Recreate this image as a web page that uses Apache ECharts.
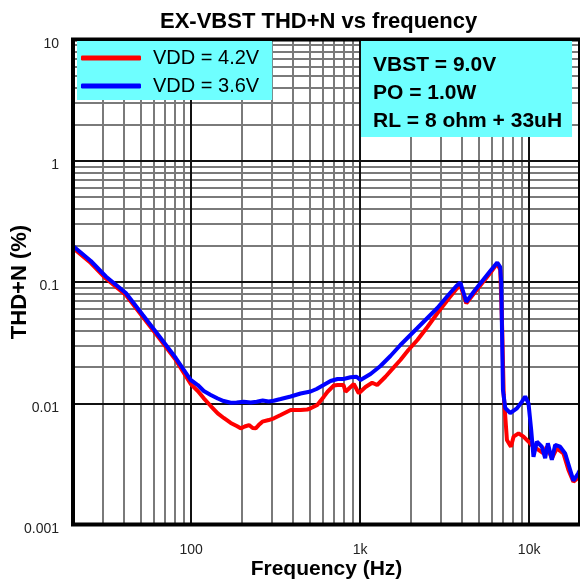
<!DOCTYPE html>
<html>
<head>
<meta charset="utf-8">
<script src="https://cdn.jsdelivr.net/npm/echarts@6/dist/echarts.min.js"></script>
<style>html,body{margin:0;padding:0;background:#fff}#c{width:580px;height:583px}</style>
</head>
<body>
<div id="c"></div>
<script>
// ---------- data ----------
const seriesNames = ['VDD = 4.2V', 'VDD = 3.6V'];

const freq42 = [20, 25.5, 31.3, 41.1, 51.8, 65.3, 81.2, 99.5, 109.5, 118.8, 130.7, 143.7, 155.9, 171.5, 186.1, 196.5, 207.5, 220.1, 231.4, 241, 251, 264, 287.6, 309, 338.6, 388, 444.5, 486.7, 509.3, 557.6, 610.2, 641.6, 699, 735, 797.5, 819.7, 842, 917.3, 938.8, 981.8, 1076, 1178, 1261, 1412, 1553, 1731, 1930, 2182, 2500, 2864, 3326, 3710, 3916, 4078, 4250, 4738, 5282, 5888, 6478, 6748, 6932, 7076, 7390, 7806, 8088, 8656, 9264, 9914, 10612, 11358, 12156, 12732, 13628, 14590, 15960, 17084, 18282, 19568, 20000];
const thd42 = [0.1908, 0.1434, 0.1068, 0.0781, 0.0515, 0.0339, 0.0227, 0.0144, 0.01262, 0.01098, 0.00949, 0.00826, 0.00756, 0.00688, 0.00649, 0.00621, 0.00643, 0.00661, 0.00625, 0.00621, 0.00661, 0.00705, 0.00727, 0.00751, 0.0080, 0.0088, 0.0088, 0.00888, 0.00908, 0.00967, 0.01133, 0.01244, 0.01401, 0.01414, 0.01414, 0.01244, 0.01286, 0.01441, 0.01441, 0.01208, 0.01361, 0.01477, 0.01414, 0.01655, 0.01918, 0.02273, 0.02749, 0.03323, 0.04253, 0.0552, 0.0724, 0.0876, 0.0944, 0.0796, 0.0667, 0.0811, 0.0981, 0.1186, 0.1426, 0.1256, 0.0402, 0.0117, 0.00498, 0.00438, 0.0053, 0.00565, 0.0053, 0.00482, 0.00438, 0.00412, 0.00386, 0.00438, 0.00352, 0.00425, 0.00386, 0.00282, 0.00225, 0.00244, 0.00249];

const freq36 = [20, 25.5, 31.3, 41.1, 51.8, 65.3, 81.2, 99.5, 109.5, 118.8, 130.7, 143.7, 155.9, 171.5, 186.1, 204.7, 225.2, 244.3, 265, 287.6, 307.8, 338.6, 388, 444.5, 509.3, 552.4, 607.6, 668.3, 735, 797.5, 877, 951.8, 1005, 1076, 1152, 1319, 1511, 1731, 1930, 2182, 2500, 2864, 3326, 3710, 3916, 4078, 4250, 4738, 5282, 5888, 6478, 6748, 6840, 6998, 7222, 7730, 8468, 9064, 9480, 9914, 10286, 10612, 11110, 11898, 12444, 12910, 13628, 14254, 15258, 16332, 17482, 18282, 19568, 20000];
const thd36 = [0.198, 0.149, 0.111, 0.0811, 0.0534, 0.0352, 0.0236, 0.01555, 0.01414, 0.01262, 0.0117, 0.01094, 0.01043, 0.0101, 0.01014, 0.0103, 0.01014, 0.0103, 0.01053, 0.01034, 0.01048, 0.01083, 0.01137, 0.01203, 0.0125, 0.01311, 0.01414, 0.01526, 0.01585, 0.01585, 0.01637, 0.01655, 0.01555, 0.01646, 0.01742, 0.02028, 0.02453, 0.03023, 0.0352, 0.04174, 0.05048, 0.06103, 0.07811, 0.0927, 0.0991, 0.0827, 0.0688, 0.0843, 0.1019, 0.1232, 0.1447, 0.1329, 0.0981, 0.01286, 0.00913, 0.00831, 0.00908, 0.0103, 0.01137, 0.00999, 0.00602, 0.00362, 0.00482, 0.00438, 0.00352, 0.00468, 0.00341, 0.00453, 0.00438, 0.00386, 0.00282, 0.0023, 0.00266, 0.00282];

// tick labels
const xTickValues = [100, 1000, 10000];
const xTickLabels = ['100', '1k', '10k'];
const yTickValues = [0.001, 0.01, 0.1, 1, 10];
const yTickLabels = ['0.001', '0.01', '0.1', '1', '10'];

// grid line positions (log decades and their 2..9 subdivisions)
const xMinorLines = [30, 40, 50, 60, 70, 80, 90, 200, 300, 400, 500, 600, 700, 800, 900, 2000, 3000, 4000, 5000, 6000, 7000, 8000, 9000];
const xMajorLines = [100, 1000, 10000];
const yMinorLines = [0.002, 0.003, 0.004, 0.005, 0.006, 0.007, 0.008, 0.009, 0.02, 0.03, 0.04, 0.05, 0.06, 0.07, 0.08, 0.09, 0.2, 0.3, 0.4, 0.5, 0.6, 0.7, 0.8, 0.9, 2, 3, 4, 5, 6, 7, 8, 9];
const yMajorLines = [0.01, 0.1, 1];

const infoText = ['VBST = 9.0V', 'PO = 1.0W', 'RL = 8 ohm + 33uH'];
const titleText = 'EX-VBST THD+N vs frequency';

// ---------- chart ----------
const FONT = 'Liberation Sans, Arial, sans-serif';
const CYAN = '#6EFFFF';
const zip = (xs, ys) => xs.map((x, i) => [x, ys[i]]);
function pickLabel(v, vals, labels) {
  const lv = Math.log10(v);
  const i = vals.findIndex(t => Math.abs(Math.log10(t) - lv) < 1e-6);
  return i >= 0 ? labels[i] : '';
}

const minorStyle = { color: '#7a7a7a', width: 2, type: 'solid' };
const majorStyle = { color: '#111', width: 2, type: 'solid' };
const gridLineData = []
  .concat(xMinorLines.map(v => ({ xAxis: v, lineStyle: minorStyle })))
  .concat(yMinorLines.map(v => ({ yAxis: v, lineStyle: minorStyle })))
  .concat(xMajorLines.map(v => ({ xAxis: v, lineStyle: majorStyle })))
  .concat(yMajorLines.map(v => ({ yAxis: v, lineStyle: majorStyle })));

const chart = echarts.init(document.getElementById('c'), null, { renderer: 'canvas' });
chart.setOption({
  animation: false,
  backgroundColor: '#fff',
  title: [
    {
      text: titleText, left: 155, top: 6, z: 6,
      textStyle: { fontFamily: FONT, fontSize: 22, fontWeight: 'bold', color: '#000' }
    },
    {
      text: infoText.join('\n'), left: 361, top: 41, z: 6,
      backgroundColor: CYAN, padding: [10, 10, 2, 12],
      textStyle: { fontFamily: FONT, fontSize: 21, fontWeight: 'bold', color: '#000', lineHeight: 28 }
    }
  ],
  legend: {
    data: seriesNames, orient: 'vertical', left: 77, top: 41, z: 6,
    backgroundColor: CYAN, padding: [7, 13, 4, 4],
    icon: 'roundRect', itemWidth: 60, itemHeight: 5, itemGap: 8,
    textStyle: { fontFamily: FONT, fontSize: 20, color: '#000', padding: [0, 0, 0, 7], lineHeight: 20 }
  },
  grid: {
    left: 73, right: 0, top: 39.5, bottom: 58.5,
    outerBoundsMode: 'none', containLabel: false,
    show: true, borderColor: '#000', borderWidth: 4, backgroundColor: 'transparent', z: 5
  },
  xAxis: {
    type: 'log', logBase: 10, min: 20, max: 20000,
    name: 'Frequency (Hz)', nameLocation: 'middle', nameGap: 34, nameMoveOverlap: false,
    nameTextStyle: { fontFamily: FONT, fontSize: 21, fontWeight: 'bold', color: '#000' },
    axisLine: { show: false }, axisTick: { show: false }, splitLine: { show: false },
    axisLabel: {
      margin: 19, fontFamily: FONT, fontSize: 14, color: '#222',
      formatter: v => pickLabel(v, xTickValues, xTickLabels)
    }
  },
  yAxis: {
    type: 'log', logBase: 10, min: 0.001, max: 10,
    name: 'THD+N (%)', nameLocation: 'middle', nameGap: 42, nameRotate: 90, nameMoveOverlap: false,
    nameTextStyle: { fontFamily: FONT, fontSize: 22, fontWeight: 'bold', color: '#000' },
    axisLine: { show: false }, axisTick: { show: false }, splitLine: { show: false },
    axisLabel: {
      margin: 14, fontFamily: FONT, fontSize: 14, color: '#222',
      verticalAlign: 'top', lineHeight: 9,
      formatter: v => pickLabel(v, yTickValues, yTickLabels)
    }
  },
  series: [
    {
      name: 'grid', type: 'line', data: [[20, 0.001]], symbol: 'none', silent: true, z: 1,
      lineStyle: { opacity: 0 },
      markLine: { silent: true, z: 1, symbol: ['none', 'none'], label: { show: false }, animation: false, data: gridLineData }
    },
    {
      name: seriesNames[0], type: 'line', data: zip(freq42, thd42), symbol: 'none', z: 3,
      color: '#FF0000', lineStyle: { color: '#FF0000', width: 4 }
    },
    {
      name: seriesNames[1], type: 'line', data: zip(freq36, thd36), symbol: 'none', z: 4,
      color: '#0000FF', lineStyle: { color: '#0000FF', width: 4 }
    }
  ]
});
</script>
</body>
</html>
